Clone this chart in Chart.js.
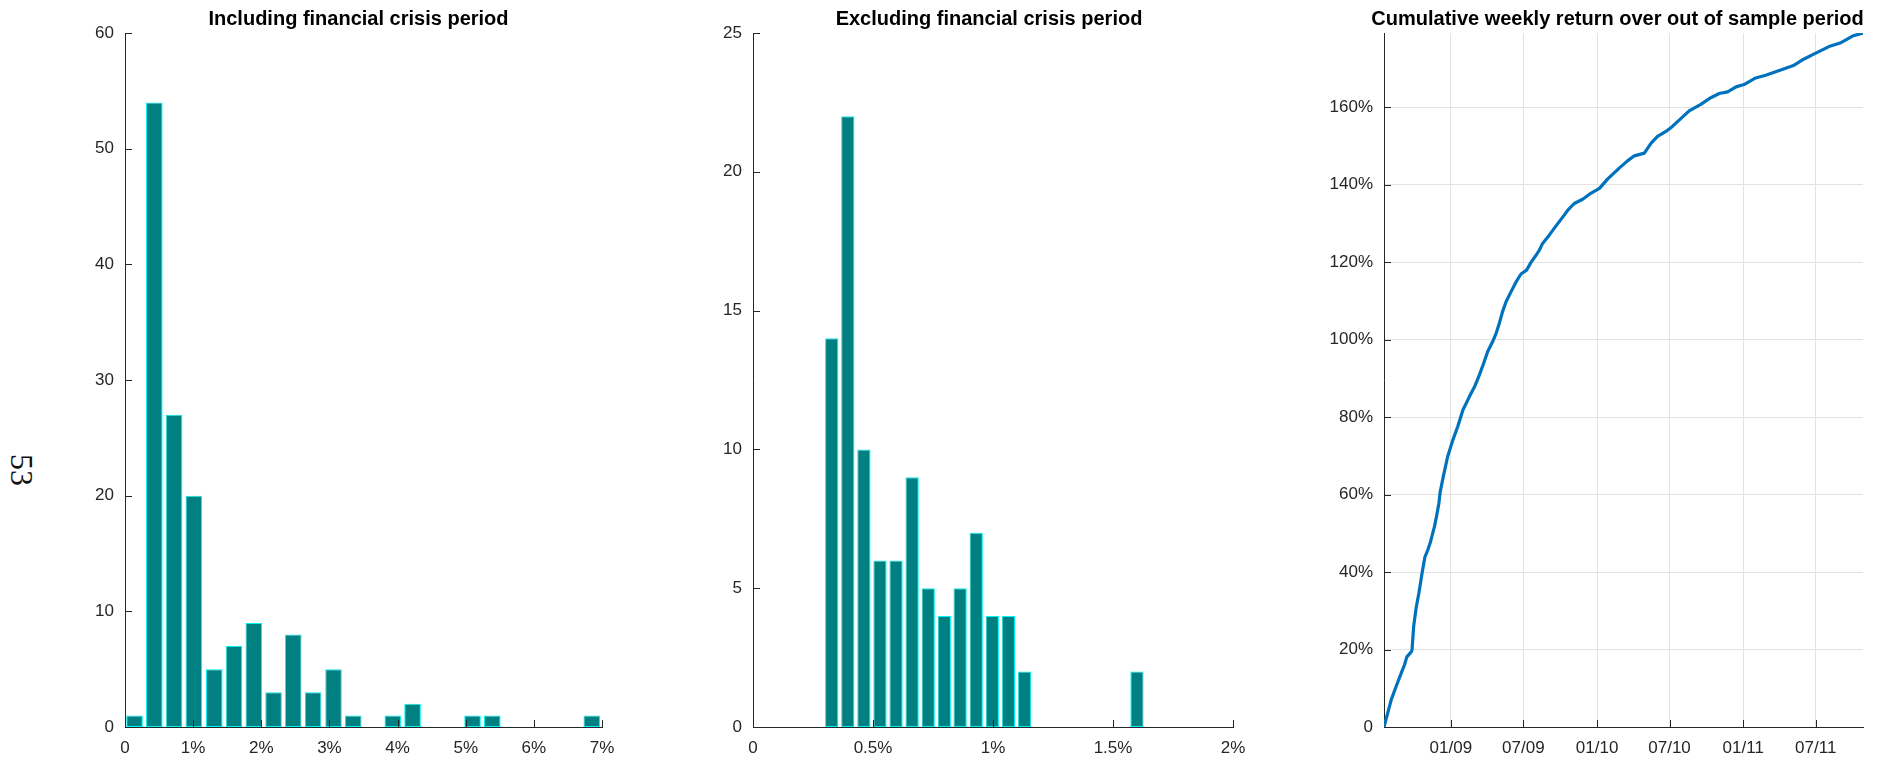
<!DOCTYPE html>
<html>
<head>
<meta charset="utf-8">
<script src="https://cdn.jsdelivr.net/npm/chart.js@4.4.1/dist/chart.umd.min.js"></script>
<style>
  html, body { margin: 0; padding: 0; background: #fff; }
  body { width: 1884px; height: 763px; position: relative; overflow: hidden; }
  canvas { position: absolute; top: 0; }
  #pageNo {
    position: absolute; left: 6px; top: 454px;
    writing-mode: vertical-rl;
    font: 32px 'Liberation Serif', 'DejaVu Serif', serif;
    line-height: 1; color: #111;
  }
</style>
</head>
<body>
<div id="pageNo">53</div>
<canvas id="incl" width="660" height="763" style="left:0px"></canvas>
<canvas id="excl" width="660" height="763" style="left:640px"></canvas>
<canvas id="cum" width="584" height="763" style="left:1300px"></canvas>
<script>
// Weekly return histogram, whole sample (bin centres in %, counts per bin)
const inclBins = [0.14, 0.43, 0.72, 1.01, 1.31, 1.60, 1.89, 2.18, 2.47, 2.76, 3.06, 3.35,
                  3.64, 3.93, 4.22, 4.52, 4.81, 5.10, 5.39, 5.68, 5.98, 6.27, 6.56, 6.85];
const inclCounts = [1, 54, 27, 20, 5, 7, 9, 3, 8, 3, 5, 1, 0, 1, 2, 0, 0, 1, 1, 0, 0, 0, 0, 1];
const inclXTicks = [0, 1, 2, 3, 4, 5, 6, 7];
const inclYTicks = [0, 10, 20, 30, 40, 50, 60];

// Weekly return histogram, crisis weeks left out
const exclBins = [0.328, 0.395, 0.462, 0.529, 0.596, 0.663, 0.730, 0.797, 0.863, 0.930,
                  0.997, 1.064, 1.131, 1.198, 1.265, 1.332, 1.399, 1.466, 1.533, 1.600];
const exclCounts = [14, 22, 10, 6, 6, 9, 5, 4, 5, 7, 4, 4, 2, 0, 0, 0, 0, 0, 0, 2];
const exclXTicks = [0, 0.5, 1, 1.5, 2];
const exclYTicks = [0, 5, 10, 15, 20, 25];

// Cumulative return (%), x = days since 18 Jul 2008
const cumDays = [0, 18, 30, 43, 51, 57, 68, 70, 74, 80, 87, 95, 102, 109, 115, 126, 131, 137, 140,
                 148, 159, 172, 184, 197, 213, 226, 238, 248, 259, 271, 280, 288, 296, 305, 317,
                 330, 342, 356, 367, 380, 388, 396, 413, 430, 450, 459, 475, 496, 513, 538, 558,
                 588, 608, 625, 650, 667, 683, 704, 720, 737, 762, 791, 816, 837, 858, 879, 899,
                 928, 953, 978, 1003, 1024, 1049, 1068, 1111, 1139, 1172, 1196];
const cumReturn = [0, 7.0, 10.4, 13.9, 16.0, 18.1, 19.4, 19.9, 25.9, 30.6, 34.5, 39.7, 43.8, 45.6,
                   47.4, 51.7, 54.3, 57.7, 60.5, 64.6, 69.8, 74.1, 77.5, 81.8, 85.2, 87.8, 90.8,
                   93.6, 96.9, 99.4, 101.6, 104.2, 107.2, 109.8, 112.3, 114.9, 116.9, 117.9, 119.9,
                   121.8, 123.1, 124.8, 127.0, 129.4, 132.1, 133.4, 135.1, 136.2, 137.5, 139.0,
                   141.4, 144.3, 146.1, 147.4, 148.1, 150.7, 152.4, 153.7, 155.0, 156.6, 159.0,
                   160.7, 162.4, 163.5, 163.9, 165.2, 165.8, 167.5, 168.2, 169.1, 170.0, 170.8,
                   172.4, 173.4, 175.6, 176.5, 178.4, 179.1];
const cumYTicks = [0, 20, 40, 60, 80, 100, 120, 140, 160];
const dateTickDays = [167, 348, 532, 713, 897, 1078];
const dateTickLabels = ['01/09', '07/09', '01/10', '07/10', '01/11', '07/11'];

const INK = '#262626';
const BAR_FILL = '#008080';
const BAR_EDGE = '#00f5f5';
const LINE = '#0072BD';
const GRID = '#e2e2e2';
const FONT = "'Liberation Sans', Arial, Helvetica, sans-serif";

Chart.defaults.font.family = FONT;
Chart.defaults.font.size = 17;
Chart.defaults.color = INK;

const pct = v => (v === 0 ? '0' : v + '%');
const useTicks = values => scale => { scale.ticks = values.map(v => ({ value: v })); };

// short tick marks pointing into the plot area
const innerTicks = {
  id: 'innerTicks',
  afterDraw(chart) {
    const { ctx, chartArea: a, scales: { x, y } } = chart;
    ctx.save();
    ctx.strokeStyle = INK;
    ctx.lineWidth = 1;
    ctx.beginPath();
    x.ticks.forEach(t => {
      if (t.value === x.min) return;
      const px = Math.round(x.getPixelForValue(t.value)) + 0.5;
      ctx.moveTo(px, a.bottom);
      ctx.lineTo(px, a.bottom - 7);
    });
    y.ticks.forEach(t => {
      if (t.value === y.min) return;
      const py = Math.round(y.getPixelForValue(t.value)) + 0.5;
      ctx.moveTo(a.left, py);
      ctx.lineTo(a.left + 7, py);
    });
    ctx.stroke();
    ctx.restore();
  }
};

// bold heading centred over the plot area
const axesTitle = {
  id: 'axesTitle',
  afterDraw(chart, args, opts) {
    const { ctx, chartArea: a } = chart;
    ctx.save();
    ctx.font = 'bold 20px ' + FONT;
    ctx.fillStyle = '#000';
    ctx.textAlign = 'center';
    ctx.textBaseline = 'alphabetic';
    ctx.fillText(opts.text, (a.left + a.right) / 2 + opts.shift, 25);
    ctx.restore();
  }
};

function histChart(id, bins, counts, xTicks, yTicks, xMax, yMax, yWidth, padRight, title, shift) {
  return new Chart(document.getElementById(id), {
    type: 'bar',
    data: {
      datasets: [{
        data: bins.map((b, i) => ({ x: b, y: counts[i] })),
        backgroundColor: BAR_FILL,
        borderColor: BAR_EDGE,
        borderWidth: 1,
        borderSkipped: false,
        barPercentage: 0.84,
        categoryPercentage: 1
      }]
    },
    options: {
      responsive: false, animation: false, devicePixelRatio: 1,
      layout: { padding: { left: 0, right: padRight, top: 33, bottom: 0 } },
      plugins: { legend: { display: false }, tooltip: { enabled: false },
                 axesTitle: { text: title, shift } },
      scales: {
        x: {
          type: 'linear', min: 0, max: xMax, offset: false, z: 1,
          grid: { display: false, drawTicks: false, offset: false },
          border: { display: true, color: INK, width: 1 },
          afterBuildTicks: useTicks(xTicks),
          afterFit: s => { s.height = 36; },
          ticks: { padding: 11, maxRotation: 0, autoSkip: false, callback: v => pct(v) }
        },
        y: {
          min: 0, max: yMax, z: 1,
          grid: { display: false, drawTicks: false },
          border: { display: true, color: INK, width: 1 },
          afterBuildTicks: useTicks(yTicks),
          afterFit: s => { s.width = yWidth; },
          ticks: { padding: 11, autoSkip: false }
        }
      }
    },
    plugins: [innerTicks, axesTitle]
  });
}

histChart('incl', inclBins, inclCounts, inclXTicks, inclYTicks, 7, 60, 125, 58,
          'Including financial crisis period', -5);
histChart('excl', exclBins, exclCounts, exclXTicks, exclYTicks, 2, 25, 113, 67,
          'Excluding financial crisis period', -4);

new Chart(document.getElementById('cum'), {
  type: 'line',
  data: {
    datasets: [{
      data: cumDays.map((d, i) => ({ x: d, y: cumReturn[i] })),
      borderColor: LINE,
      borderWidth: 3.2,
      borderJoinStyle: 'round',
      pointRadius: 0,
      tension: 0,
      fill: false
    }]
  },
  options: {
    responsive: false, animation: false, devicePixelRatio: 1,
    layout: { padding: { left: 0, right: 21, top: 33, bottom: 0 } },
    plugins: { legend: { display: false }, tooltip: { enabled: false },
               axesTitle: { text: 'Cumulative weekly return over out of sample period', shift: -6 } },
    scales: {
      x: {
        type: 'linear', min: 0, max: cumDays[cumDays.length - 1],
        grid: { display: true, color: GRID, lineWidth: 1, drawTicks: false },
        border: { display: true, color: INK, width: 1 },
        afterBuildTicks: useTicks(dateTickDays),
        afterFit: s => { s.height = 36; },
        ticks: { padding: 11, maxRotation: 0, autoSkip: false,
                 callback: (v, i) => dateTickLabels[i] }
      },
      y: {
        type: 'linear', min: 0, max: Math.max(...cumReturn),
        grid: { display: true, color: GRID, lineWidth: 1, drawTicks: false },
        border: { display: true, color: INK, width: 1 },
        afterBuildTicks: useTicks(cumYTicks),
        afterFit: s => { s.width = 84; },
        ticks: { padding: 11, autoSkip: false, callback: v => pct(v) }
      }
    }
  },
  plugins: [innerTicks, axesTitle]
});
</script>
</body>
</html>
